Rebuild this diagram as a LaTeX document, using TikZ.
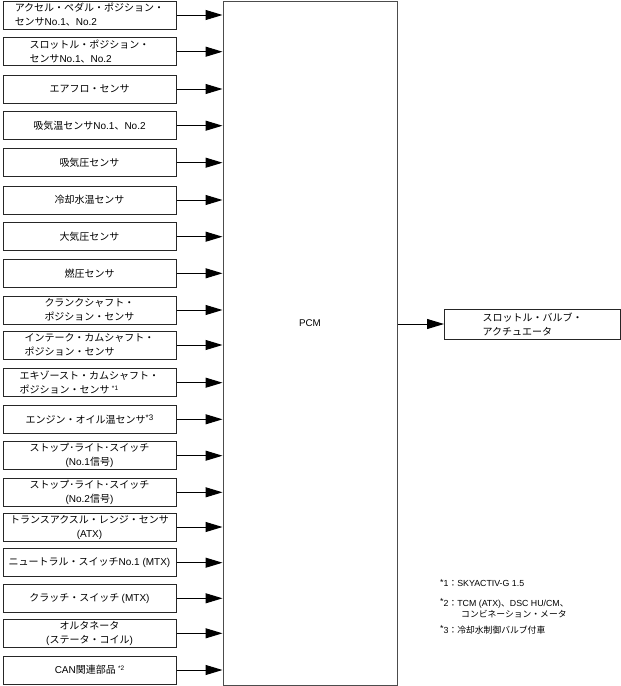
\documentclass[tikz,border=0pt]{standalone}
\usepackage{fontspec}
\setmainfont{Noto Sans CJK JP}
\newfontfamily\lat{Liberation Sans}
\usetikzlibrary{arrows.meta}

\tikzset{
	inbox/.style={draw=black!85, line width=1pt, minimum width=173pt, minimum height=28pt, inner sep=1pt, font=\fontsize{10}{14}\selectfont},
	sig/.style={-{Triangle[length=17pt,width=10pt]}, line width=1pt},
	note/.style={anchor=west, inner sep=0pt, font=\fontsize{8.8}{11}\selectfont},
}
\newcommand{\la}[1]{{\lat #1}}
\newcommand{\fn}[1]{\raisebox{0.35em}{\lat\fontsize{6.5}{7}\selectfont *#1}}

\begin{document}
\begin{tikzpicture}[x=1pt,y=-1pt]
		\useasboundingbox (0,0) rectangle (621,686);
		
		% PCM
		\node[draw=black!70, line width=1pt, minimum width=174pt, minimum height=684pt, inner sep=0pt] (pcm) at (310,343) {};
		\node[font=\fontsize{9.8}{12}\selectfont\lat] (pcmtxt) at (310,323) {PCM};
		
		% Inputs
		\foreach \i/\y/\al/\txt in {
			1/15/left/{アクセル・ペダル・ポジション・\\センサ\la{No.1}、\la{No.2}},
			2/51.7/left/{スロットル・ポジション・\\センサ\la{No.1}、\la{No.2}},
			3/89/center/{エアフロ・センサ},
			4/125.7/center/{吸気温センサ\la{No.1}、\la{No.2}},
			5/162.7/center/{吸気圧センサ},
			6/200/center/{冷却水温センサ},
			7/236.7/center/{大気圧センサ},
			8/273.3/center/{燃圧センサ},
			9/310/center/{クランクシャフト・\\ポジション・センサ},
			10/345/left/{インテーク・カムシャフト・\\ポジション・センサ},
			11/382.7/left/{エキゾースト・カムシャフト・\\ポジション・センサ \fn{1}},
			12/419.3/center/{エンジン・オイル温センサ\raisebox{0.3em}{\lat\fontsize{8}{9}\selectfont *3}},
			13/455.7/center/{ストップ･ライト･スイッチ\\\la{(No.1}信号\la{)}},
			14/492.3/center/{ストップ･ライト･スイッチ\\\la{(No.2}信号\la{)}},
			15/527/center/{トランスアクスル・レンジ・センサ\\\la{(ATX)}},
			16/562.7/center/{ニュートラル・スイッチ\la{No.1 (MTX)}},
			17/598.3/center/{クラッチ・スイッチ \la{(MTX)}},
			18/633.3/center/{オルタネータ\\\la{(}ステータ・コイル\la{)}},
			19/670/center/{\la{CAN}関連部品 \fn{2}}} {
			\node[inbox,align=\al] (in\i) at (89.5,\y) {\txt};
			\draw[sig] (in\i.east) -- (in\i -| pcm.west);
		}
		
		% Output
		\node[inbox, minimum width=176pt, minimum height=30pt, align=left] (out) at (532.5,324) {スロットル・バルブ・\\アクチュエータ};
		\draw[sig] (out -| pcm.east) -- (out.west);
		
		% Notes
		\node[note] (n1) at (440,583) {\la{\raisebox{0.2em}{*}1}：\la{SKYACTIV-G 1.5}};
		\node[note] (n2) at (440,603) {\la{\raisebox{0.2em}{*}2}：\la{TCM (ATX)}、\la{DSC HU/CM}、};
		\node[note] (n2b) at (461,614) {コンビネーション・メータ};
		\node[note] (n3) at (440,630) {\la{\raisebox{0.2em}{*}3}：冷却水制御バルブ付車};
	\end{tikzpicture}
\end{document}
